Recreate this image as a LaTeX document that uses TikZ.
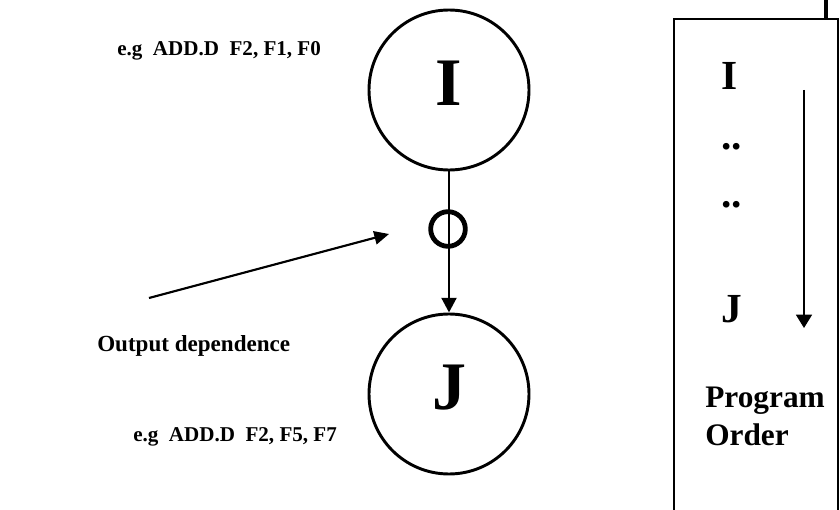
\documentclass[tikz,border=0pt]{standalone}
\usepackage{fontspec}
\setmainfont{Liberation Serif}
\usetikzlibrary{arrows.meta}
\begin{document}
\begin{tikzpicture}[x=0.75pt,y=-0.75pt,
  bignode/.style={draw,line width=2.2pt,circle,minimum size=120pt,inner sep=0pt,font=\fontsize{51}{51}\selectfont\bfseries},
  smallmark/.style={draw,line width=3.6pt,circle,minimum size=26pt,inner sep=0pt},
  conn/.style={line width=2.2pt,-{Triangle[length=11pt,width=11pt]}},
  pointer/.style={line width=1.6pt,-{Triangle[length=11pt,width=10pt]}},
  example/.style={font=\fontsize{15.8}{18}\selectfont\bfseries,anchor=base west,inner sep=0pt},
  label/.style={font=\fontsize{17.3}{20}\selectfont\bfseries,anchor=base west,inner sep=0pt},
  boxtext/.style={font=\fontsize{31}{31}\selectfont\bfseries,anchor=base west,inner sep=0pt},
  ordertext/.style={font=\fontsize{23.5}{28}\selectfont\bfseries,align=left,anchor=north west,inner sep=0pt}]
\useasboundingbox (0,0) rectangle (840,510);
% circles
\node[bignode] (I) at (449,90) {};
\node[bignode] (J) at (449,394) {};
\node[font=\fontsize{51}{51}\selectfont\bfseries,inner sep=0pt] (Ilab) at (449,83) {I};
\node[font=\fontsize{51}{51}\selectfont\bfseries,inner sep=0pt] (Jlab) at (449,388) {J};
\node[smallmark] (dep) at (448,229) {};
\draw[conn] (I.south) -- (J.north);
% pointer
\coordinate (ptail) at (149,298);
\coordinate (ptip) at (389,234);
\draw[pointer] (ptail) -- (ptip);
% labels
\node[example] (exI) at (117,56) {e.g\ \ ADD.D\ \ F2, F1, F0};
\node[example] (exJ) at (133,441) {e.g\ \ ADD.D\ \ F2, F5, F7};
\node[label] (lab) at (97,351) {Output dependence};
% program order box
\draw[line width=1.6pt] (674,515) -- (674,19) -- (838,19) -- (838,515);
\coordinate (stubtop) at (826,-2);
\coordinate (stubbot) at (826,19);
\draw[line width=3.2pt] (stubtop) -- (stubbot);
\node[boxtext] (bI) at (721,90) {I};
\node[boxtext] (bd1) at (721,150) {..};
\node[boxtext] (bd2) at (721,207) {..};
\node[boxtext] (bJ) at (721,322) {J};
\coordinate (oa) at (804,90);
\coordinate (ob) at (804,328);
\draw[line width=1.2pt,-{Triangle[length=10pt,width=12pt]}] (oa) -- (ob);
\node[ordertext] (po) at (705,387) {Program\\Order};
\end{tikzpicture}
\end{document}
